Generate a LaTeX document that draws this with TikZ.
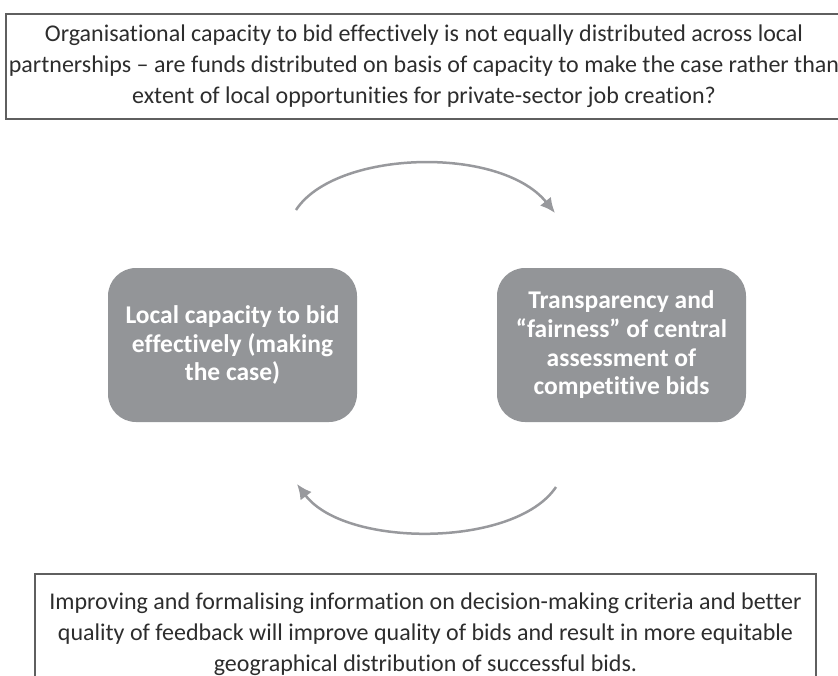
\documentclass[tikz,border=0pt]{standalone}
\usepackage{fontspec}
\setmainfont{Carlito}[Ligatures=NoCommon]
\usetikzlibrary{arrows.meta}
\definecolor{color1}{RGB}{147,149,152}
\definecolor{color2}{RGB}{152,153,157}
\definecolor{color3}{RGB}{95,95,95}
\definecolor{color4}{RGB}{45,45,45}

\begin{document}
\begin{tikzpicture}[x=1pt, y=-1pt,
  textbox/.style  = {draw=color3, line width=1.3pt, text=color4, inner sep=0pt,
                     align=center, font=\fontsize{24}{31}\selectfont},
  roundbox/.style = {fill=color1, rounded corners=28pt, inner sep=0pt,
                     minimum width=249pt, minimum height=154pt, text=white,
                     align=center, font=\bfseries\fontsize{25.5}{28.7}\selectfont},
  cyclearrow/.style = {draw=color2, line width=2.5pt,
                       -{Latex[length=15pt,width=14pt]}}]
\useasboundingbox (0,0) rectangle (838,675);

% top note
\node[textbox, minimum width=836pt, minimum height=105pt] (capacitynote) at (424,66.5)
  {Organisational capacity to bid effectively is not equally distributed across local\\
   partnerships – are funds distributed on basis of capacity to make the case rather than\\
   extent of local opportunities for private-sector job creation?};

% the two sides
\node[roundbox] (capacity) at (232.5,345)
  {Local capacity to bid\\ effectively (making\\ the case)};
\node[roundbox] (fairness) at (621.5,345)
  {Transparency and\\ “fairness” of central\\ assessment of\\ competitive bids};

% arrows
\coordinate (topstart) at (296,210);
\coordinate (topend)   at (555,213);
\coordinate (botstart) at (556,487);
\coordinate (botend)   at (297,484);
\draw[cyclearrow] (topstart) .. controls (335,150) and (500,145) .. (topend);
\draw[cyclearrow] (botstart) .. controls (515,548) and (345,548) .. (botend);

% bottom note
\node[textbox, minimum width=781pt, minimum height=120pt] (feedbacknote) at (425.5,634)
  {Improving and formalising information on decision-making criteria and better\\
   quality of feedback will improve quality of bids and result in more equitable\\
   geographical distribution of successful bids.};

\end{tikzpicture}
\end{document}
